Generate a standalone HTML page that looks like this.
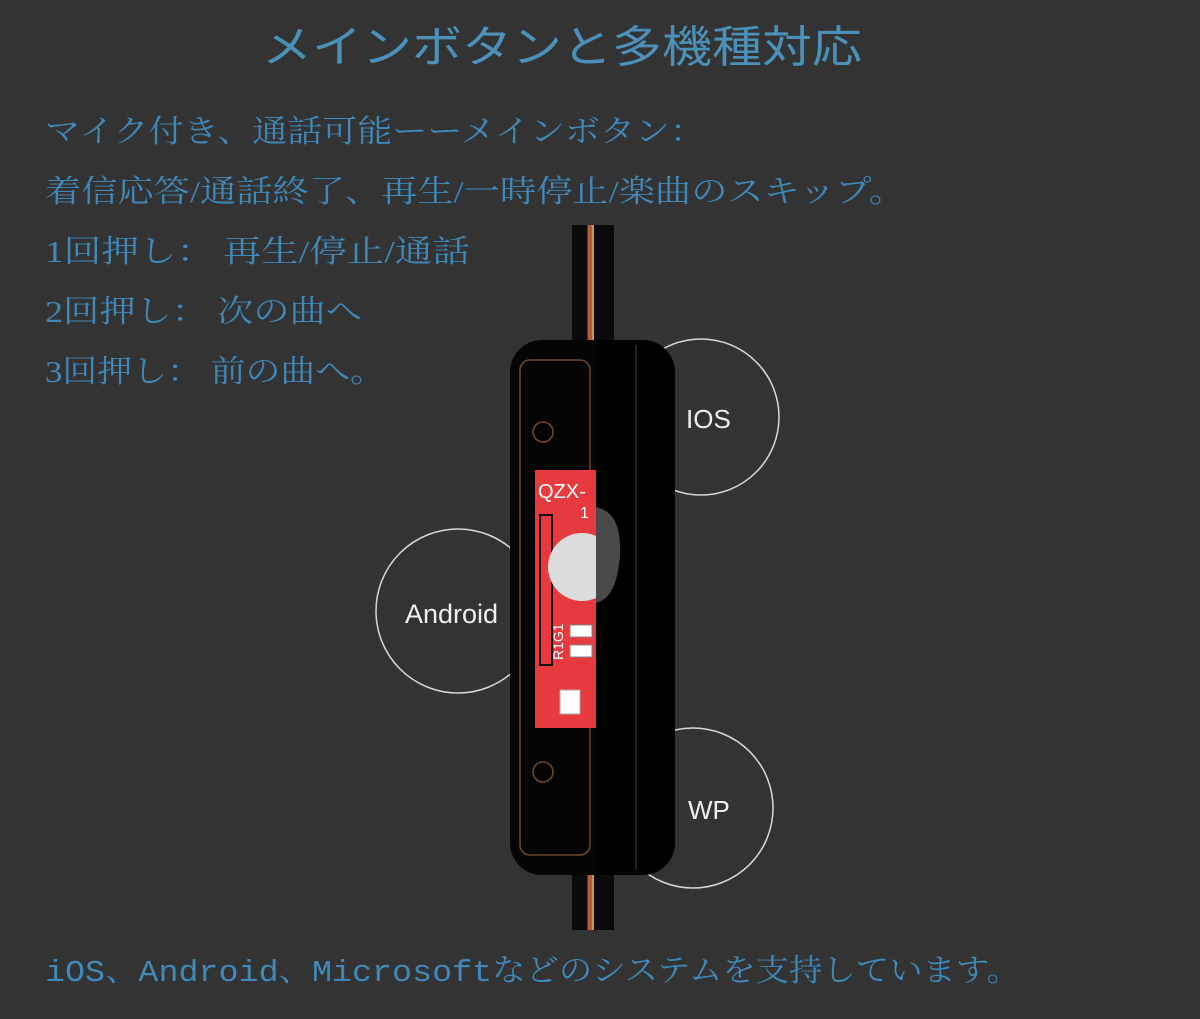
<!DOCTYPE html>
<html><head><meta charset="utf-8"><style>
html,body{margin:0;padding:0;background:#333333;}
svg{display:block}
text{font-family:"Liberation Serif","Noto Serif CJK SC","Noto Sans CJK JP",serif;fill:#3f88b8;}
.s{font-family:"Liberation Sans","Noto Sans CJK JP",sans-serif;}
.m{font-family:"Liberation Mono","Noto Serif CJK SC",monospace;}
</style></head><body>
<svg width="1200" height="1019" viewBox="0 0 1200 1019" xmlns="http://www.w3.org/2000/svg">
<rect width="1200" height="1019" fill="#333333"/>
<text class="s" x="262" y="62" font-size="44" textLength="600" lengthAdjust="spacingAndGlyphs" style="fill:#4a90b8">メインボタンと多機種対応</text>
<text x="45" y="142" font-size="31" textLength="660" lengthAdjust="spacingAndGlyphs">マイク付き、通話可能ーーメインボタン：</text>
<text x="45" y="202" font-size="31" textLength="860" lengthAdjust="spacingAndGlyphs">着信応答/通話終了、再生/一時停止/楽曲のスキップ。</text>
<text x="45" y="262" font-size="31" textLength="425" lengthAdjust="spacingAndGlyphs">1回押し： 再生/停止/通話</text>
<text x="45" y="322" font-size="31" textLength="317" lengthAdjust="spacingAndGlyphs">2回押し： 次の曲へ</text>
<text x="45" y="382" font-size="31" textLength="340" lengthAdjust="spacingAndGlyphs">3回押し： 前の曲へ。</text>
<text class="m" x="45" y="981" font-size="31" textLength="975" lengthAdjust="spacingAndGlyphs">iOS、Android、Microsoftなどのシステムを支持しています。</text>
<g fill="none" stroke="#d8d8d8" stroke-width="1.5">
<circle cx="701" cy="417" r="78"/>
<circle cx="458" cy="611" r="82"/>
<circle cx="693" cy="808" r="80"/>
</g>
<text class="s" x="686" y="428" font-size="26" style="fill:#f0f0f0">IOS</text>
<text class="s" x="405" y="623" font-size="27" style="fill:#f0f0f0">Android</text>
<text class="s" x="688" y="819" font-size="26" style="fill:#f0f0f0">WP</text>
<rect x="572" y="225" width="42" height="705" fill="#0a0a0a"/>
<line x1="590" y1="225" x2="590" y2="930" stroke="#b55a3a" stroke-width="5"/>
<line x1="593" y1="225" x2="593" y2="930" stroke="#c89a40" stroke-width="2"/>
<rect x="510" y="340" width="165" height="535" rx="32" fill="#050505"/>
<rect x="520" y="360" width="70" height="495" rx="10" fill="none" stroke="#6b4a2e" stroke-width="1.5"/>
<circle cx="543" cy="432" r="10" fill="none" stroke="#6b4a2e" stroke-width="1.5"/>
<circle cx="543" cy="772" r="10" fill="none" stroke="#6b4a2e" stroke-width="1.5"/>
<rect x="535" y="470" width="61" height="258" fill="#e63a3e"/>
<text class="s" x="538" y="498" font-size="20" style="fill:#fff">QZX-</text>
<text class="s" x="580" y="518" font-size="16" style="fill:#fff">1</text>
<rect x="540" y="515" width="12" height="150" fill="none" stroke="#111" stroke-width="2"/>
<circle cx="582" cy="567" r="34" fill="#dcdcdc"/>
<rect x="560" y="690" width="20" height="24" fill="#fff" stroke="#aaa"/>
<rect x="570" y="625" width="22" height="12" fill="#fff" stroke="#888"/>
<rect x="570" y="645" width="22" height="12" fill="#fff" stroke="#888"/>
<text class="s" x="563" y="660" font-size="14" style="fill:#fff" transform="rotate(-90 563 660)">R1G1</text>
<path d="M596 340 H640 A35 35 0 0 1 675 375 V840 A35 35 0 0 1 640 875 H596 Z" fill="#000"/>
<line x1="636" y1="345" x2="636" y2="870" stroke="#2a2a2a" stroke-width="1.5"/>
<path d="M596 507 Q622 512 620 555 Q617 598 596 603 Z" fill="#4a4a4a"/>
</svg>
</body></html>
